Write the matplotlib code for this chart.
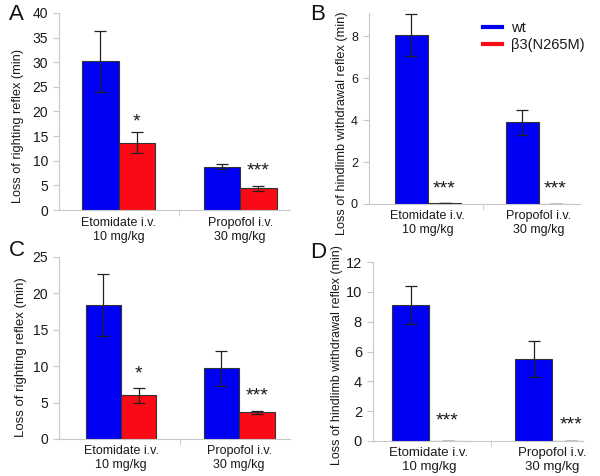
import numpy as np
import matplotlib
matplotlib.use("Agg")
import matplotlib.pyplot as plt

plt.rcParams['font.family'] = ['Liberation Sans', 'DejaVu Sans']

# data
groups = ['Etomidate i.v.\n10 mg/kg', 'Propofol i.v.\n30 mg/kg']
series = ['wt', 'β3(N265M)']

a_wt, a_wt_err = [30.2, 8.8], [6.2, 0.55]
a_mut, a_mut_err = [13.7, 4.4], [2.1, 0.45]
a_stars = ['*', '***']

b_wt, b_wt_err = [8.05, 3.9], [1.0, 0.6]
b_mut, b_mut_err = [0.05, 0.02], [0.0, 0.0]
b_stars = ['***', '***']

c_wt, c_wt_err = [18.4, 9.7], [4.2, 2.4]
c_mut, c_mut_err = [6.0, 3.7], [1.0, 0.2]
c_stars = ['*', '***']

d_wt, d_wt_err = [9.1, 5.5], [1.27, 1.2]
d_mut, d_mut_err = [0.0, 0.0], [0.0, 0.0]
d_stars = ['***', '***']

BLUE = '#0000f5'
RED = '#fa0a14'
GRAY = '#c8c8c8'
TXT = '#1a1a1a'

W, H = 600, 476
fig = plt.figure(figsize=(W / 100, H / 100), dpi=100)


def px_axes(left, top, right, bottom):
    return fig.add_axes([left / W, 1 - bottom / H, (right - left) / W, (bottom - top) / H])


def panel(ax, wt, wt_err, mut, mut_err, stars, ymax, yticks, ylabel,
          xlim, tick_fs, xlab_fs, ylab_fs, ylab_xy, star_pads, xpad):
    x = np.arange(len(groups))
    w = 0.3
    ax.bar(x - w / 2, wt, w, color=BLUE, edgecolor='#333333', linewidth=0.8)
    ax.bar(x + w / 2, mut, w, color=RED, edgecolor='#333333', linewidth=0.8)
    ax.errorbar(x - w / 2, wt, yerr=wt_err, fmt='none', ecolor='#222222',
                elinewidth=0.9, capsize=4, capthick=0.9)
    ax.errorbar(x + w / 2, mut, yerr=mut_err, fmt='none', ecolor='#222222',
                elinewidth=0.9, capsize=4, capthick=0.9)
    for xi, m, e, s, p in zip(x + w / 2, mut, mut_err, stars, star_pads):
        ax.annotate(s, (xi, m + e), xytext=(0, p), textcoords='offset points',
                    ha='center', va='baseline', fontsize=14, color=TXT)
    ax.set_ylim(0, ymax)
    ax.set_xlim(*xlim)
    ax.set_yticks(yticks)
    ax.set_xticks(x)
    ax.set_xticklabels(groups, fontsize=xlab_fs, color=TXT, linespacing=1.25)
    ax.set_xticks([0.5], minor=True)
    ax.tick_params(axis='x', which='major', length=0, pad=xpad)
    ax.tick_params(axis='x', which='minor', length=4, color=GRAY)
    ax.tick_params(axis='y', length=4, color=GRAY, labelsize=tick_fs, labelcolor=TXT, pad=4)
    ax.set_ylabel(ylabel, fontsize=ylab_fs, color=TXT, va='center')
    ax.yaxis.set_label_coords(*ylab_xy)
    for sp in ['top', 'right']:
        ax.spines[sp].set_visible(False)
    for sp in ['left', 'bottom']:
        ax.spines[sp].set_color(GRAY)
        ax.spines[sp].set_linewidth(0.8)
    return ax


axA = px_axes(59, 13, 290, 210)
panel(axA, a_wt, a_wt_err, a_mut, a_mut_err, a_stars, 40, range(0, 41, 5),
      'Loss of righting reflex (min)', (-0.49, 1.41), 10, 9, 9.2,
      (-0.178, 0.426), (4, 8), 5)

axB = px_axes(369, 13, 580, 204)
panel(axB, b_wt, b_wt_err, b_mut, b_mut_err, b_stars, 9.1, range(0, 9, 2),
      'Loss of hindlimb withdrawal reflex (min)', (-0.53, 1.37), 9, 9, 9.2,
      (-0.128, 0.424), (7, 7), 4)

axC = px_axes(59, 257, 290, 439)
panel(axC, c_wt, c_wt_err, c_mut, c_mut_err, c_stars, 25, range(0, 26, 5),
      'Loss of righting reflex (min)', (-0.525, 1.43), 10, 9, 9.5,
      (-0.165, 0.45), (7, 7), 4)

axD = px_axes(373, 262, 583, 441)
panel(axD, d_wt, d_wt_err, d_mut, d_mut_err, d_stars, 12, range(0, 13, 2),
      'Loss of hindlimb withdrawal reflex (min)', (-0.455, 1.25), 10.5, 9.5, 9,
      (-0.17, 0.48), (11, 8), 4)

# panel letters
for letter, (lx, ly) in zip('ABCD', [(9, 14), (310, 14), (9, 250), (310, 253)]):
    fig.text(lx / W, 1 - ly / H, letter, fontsize=16, color='#111111', va='center', ha='left')

# legend in panel B
handles = [plt.Line2D([], [], color=BLUE, lw=3), plt.Line2D([], [], color=RED, lw=3)]
fig.legend(handles, series, loc='upper left', bbox_to_anchor=(483 / W, 1 - 21 / H),
           frameon=False, fontsize=10.5, handlelength=1.3, handletextpad=0.6,
           labelspacing=0.2, borderpad=0, borderaxespad=0, labelcolor=TXT)

fig.savefig('out.png', dpi=100)
